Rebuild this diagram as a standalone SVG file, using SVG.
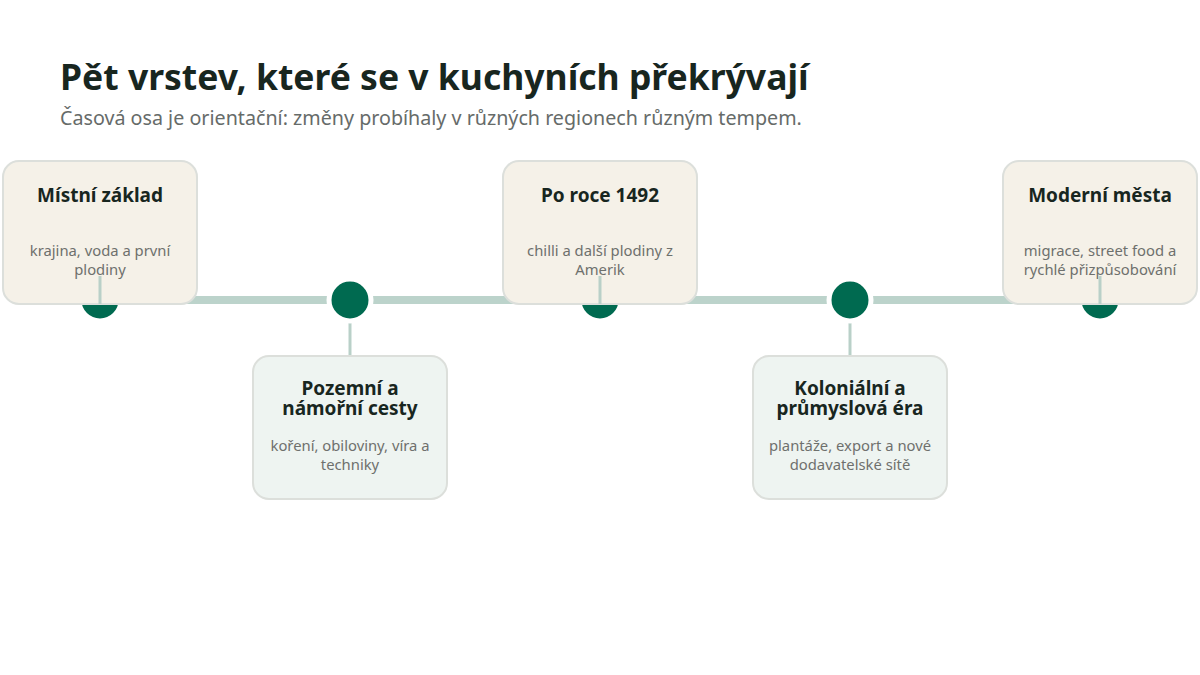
<svg xmlns="http://www.w3.org/2000/svg" width="1200" height="675" viewBox="0 0 1200 675">
<style>
.t{font-family:"Noto Sans","Open Sans",sans-serif}
.h1{font-size:35.5px;font-weight:700;fill:#18261f}
.sub{font-size:19.7px;fill:#666b69}
.ct{font-size:19px;font-weight:700;fill:#18261f;text-anchor:middle}
.cd{font-size:14.8px;fill:#6e706d;text-anchor:middle}
.top{fill:#f5f1e8;stroke:#dcdfdb;stroke-width:2}
.bot{fill:#eef4f1;stroke:#dcdfdb;stroke-width:2}
.stem{stroke:#b9d0c8;stroke-width:3}
.dot{fill:#006a50;stroke:#ffffff;stroke-width:5}
</style>
<rect width="1200" height="675" fill="#ffffff"/>
<text class="t h1" x="60" y="90">Pět vrstev, které se v kuchyních překrývají</text>
<text class="t sub" x="60" y="125">Časová osa je orientační: změny probíhaly v různých regionech různým tempem.</text>
<g id="connectors">
<line x1="40" y1="300" x2="1160" y2="300" stroke="#bcd3cb" stroke-width="8"/>
<line class="stem" x1="350" y1="322" x2="350" y2="355"/>
<line class="stem" x1="850" y1="322" x2="850" y2="355"/>
</g>
<g id="dots">
<circle class="dot" cx="100" cy="300" r="21"/>
<circle class="dot" cx="350" cy="300" r="21"/>
<circle class="dot" cx="600" cy="300" r="21"/>
<circle class="dot" cx="850" cy="300" r="21"/>
<circle class="dot" cx="1100" cy="300" r="21"/>
</g>
<g id="node1">
<rect class="top" x="3" y="161" width="194" height="143" rx="16"/>
<text class="t ct" x="100" y="202">Místní základ</text>
<text class="t cd" x="100" y="256">krajina, voda a první<tspan x="100" dy="19">plodiny</tspan></text>
<line class="stem" x1="100" y1="276" x2="100" y2="304"/>
</g>
<g id="node2">
<rect class="bot" x="253" y="356" width="194" height="143" rx="16"/>
<text class="t ct" x="350" y="395">Pozemní a<tspan x="350" dy="20">námořní cesty</tspan></text>
<text class="t cd" x="350" y="451">koření, obiloviny, víra a<tspan x="350" dy="19">techniky</tspan></text>
</g>
<g id="node3">
<rect class="top" x="503" y="161" width="194" height="143" rx="16"/>
<text class="t ct" x="600" y="202">Po roce 1492</text>
<text class="t cd" x="600" y="256">chilli a další plodiny z<tspan x="600" dy="19">Amerik</tspan></text>
<line class="stem" x1="600" y1="276" x2="600" y2="304"/>
</g>
<g id="node4">
<rect class="bot" x="753" y="356" width="194" height="143" rx="16"/>
<text class="t ct" x="850" y="395">Koloniální a<tspan x="850" dy="20">průmyslová éra</tspan></text>
<text class="t cd" x="850" y="451">plantáže, export a nové<tspan x="850" dy="19">dodavatelské sítě</tspan></text>
</g>
<g id="node5">
<rect class="top" x="1003" y="161" width="194" height="143" rx="16"/>
<text class="t ct" x="1100" y="202">Moderní města</text>
<text class="t cd" x="1100" y="256">migrace, street food a<tspan x="1100" dy="19">rychlé přizpůsobování</tspan></text>
<line class="stem" x1="1100" y1="276" x2="1100" y2="304"/>
</g>
</svg>
